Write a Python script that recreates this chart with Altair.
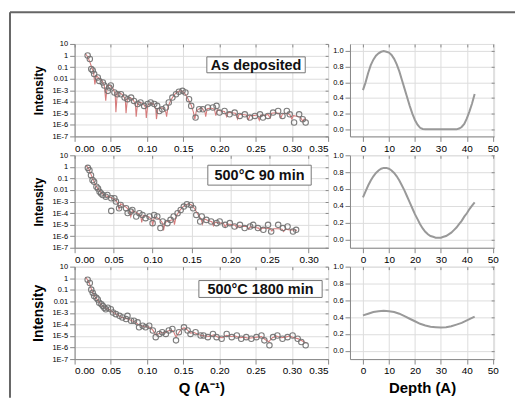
import altair as alt
import pandas as pd
import numpy as np

# ---------------- data ----------------
# Panel 1: As deposited  (Q in 1/A, intensity as log10)
p1_q = [0.018, 0.021, 0.023, 0.025, 0.027, 0.032, 0.034, 0.039, 0.041, 0.046, 0.048, 0.050,
        0.055, 0.059, 0.064, 0.069, 0.073, 0.078, 0.082, 0.087, 0.091, 0.096, 0.101, 0.105,
        0.110, 0.114, 0.117, 0.121, 0.126, 0.130, 0.135, 0.140, 0.144, 0.149, 0.153, 0.158,
        0.161, 0.167, 0.172, 0.177, 0.184, 0.191, 0.196, 0.200, 0.207, 0.214, 0.221, 0.228,
        0.235, 0.242, 0.249, 0.256, 0.260, 0.267, 0.274, 0.281, 0.287, 0.293, 0.297, 0.303,
        0.310, 0.315, 0.319]
p1_log = [0.0, -0.3, -1.17, -1.3, -1.6, -1.9, -2.2, -2.33, -2.6, -3.06, -2.77, -2.6,
          -3.2, -3.35, -3.35, -3.64, -3.78, -3.64, -3.93, -4.2, -4.07, -4.36, -4.2, -4.07,
          -4.2, -4.36, -4.8, -4.65, -4.5, -4.07, -3.64, -3.35, -3.14, -3.06, -3.2, -3.78,
          -4.36, -5.37, -4.65, -4.65, -4.5, -4.5, -4.36, -4.94, -4.8, -5.09, -4.94, -5.23,
          -5.09, -5.37, -5.23, -5.09, -5.37, -5.23, -4.94, -4.8, -5.23, -4.8, -5.09, -5.8,
          -5.09, -5.52, -5.8]
p1_fit_q = [0.015, 0.018, 0.021, 0.024, 0.026, 0.028, 0.030, 0.034, 0.038, 0.041, 0.043, 0.045,
            0.049, 0.053, 0.056, 0.057, 0.059, 0.063, 0.067, 0.070, 0.071, 0.073, 0.077, 0.081,
            0.084, 0.085, 0.087, 0.091, 0.095, 0.098, 0.099, 0.101, 0.105, 0.109, 0.112, 0.113,
            0.115, 0.119, 0.123, 0.126, 0.127, 0.129, 0.133, 0.137, 0.141, 0.145, 0.149, 0.153,
            0.157, 0.161, 0.164, 0.166, 0.168, 0.172, 0.176, 0.180, 0.181, 0.183, 0.188, 0.193,
            0.195, 0.197, 0.202, 0.207, 0.210, 0.212, 0.217, 0.222, 0.225, 0.227, 0.232, 0.237,
            0.240, 0.242, 0.247, 0.252, 0.255, 0.257, 0.262, 0.267, 0.270, 0.272, 0.277, 0.282,
            0.285, 0.287, 0.292, 0.297, 0.300, 0.302, 0.307, 0.312, 0.315, 0.317, 0.320]
p1_fit_log = [0.15, -0.1, -0.55, -1.1, -1.4, -2.5, -1.75, -2.0, -2.2, -2.6, -3.9, -2.6,
              -2.6, -2.85, -3.3, -4.9, -3.2, -3.25, -3.45, -3.8, -5.0, -3.7, -3.65, -3.85,
              -4.2, -5.3, -4.1, -4.05, -4.2, -4.5, -5.4, -4.3, -4.1, -4.2, -4.6, -5.5,
              -4.6, -4.5, -4.6, -4.9, -5.3, -4.4, -3.85, -3.45, -3.2, -3.05, -3.1, -3.35,
              -3.8, -4.3, -4.9, -5.5, -4.8, -4.6, -4.55, -4.9, -5.3, -4.6, -4.55, -4.65,
              -5.2, -4.7, -4.8, -4.85, -5.3, -4.9, -4.95, -5.0, -5.5, -5.1, -5.1, -5.15,
              -5.55, -5.2, -5.2, -5.15, -5.6, -5.15, -5.2, -5.1, -5.4, -5.0, -4.95, -5.0,
              -5.4, -5.05, -5.0, -5.1, -5.5, -5.2, -5.25, -5.35, -5.7, -5.5, -5.6]

# Panel 2: 500C 90 min
p2_q = [0.017, 0.019, 0.021, 0.023, 0.025, 0.028, 0.030, 0.032, 0.034, 0.036, 0.040, 0.042,
        0.047, 0.047, 0.051, 0.053, 0.057, 0.059, 0.066, 0.068, 0.072, 0.074, 0.079, 0.083,
        0.087, 0.091, 0.096, 0.100, 0.102, 0.106, 0.110, 0.113, 0.119, 0.123, 0.127, 0.132,
        0.136, 0.140, 0.144, 0.149, 0.152, 0.156, 0.161, 0.163, 0.169, 0.175, 0.182, 0.186,
        0.193, 0.199, 0.205, 0.212, 0.218, 0.225, 0.229, 0.235, 0.242, 0.248, 0.252, 0.261,
        0.267, 0.273, 0.280, 0.284]
p2_log = [-0.09, -0.29, -0.72, -1.15, -1.29, -1.72, -1.87, -2.15, -2.3, -2.44, -2.58, -2.44,
          -2.72, -3.81, -2.72, -3.0, -3.58, -3.3, -3.58, -4.0, -3.87, -3.73, -4.3, -4.01,
          -4.16, -4.44, -4.3, -4.87, -4.16, -4.3, -5.3, -4.73, -4.87, -4.59, -4.3, -4.01,
          -3.73, -3.44, -3.24, -3.3, -3.58, -4.16, -4.73, -4.3, -4.59, -4.73, -4.87, -4.73,
          -5.02, -4.87, -5.16, -5.02, -5.3, -5.16, -5.02, -5.3, -5.45, -5.02, -5.59, -5.02,
          -5.3, -5.16, -5.59, -5.45]
p2_fit_q = [0.015, 0.018, 0.021, 0.024, 0.027, 0.030, 0.033, 0.036, 0.040, 0.044, 0.048, 0.052,
            0.055, 0.057, 0.059, 0.063, 0.067, 0.070, 0.072, 0.074, 0.078, 0.082, 0.085, 0.086,
            0.088, 0.092, 0.096, 0.099, 0.100, 0.102, 0.106, 0.110, 0.113, 0.114, 0.116, 0.120,
            0.124, 0.127, 0.128, 0.130, 0.134, 0.138, 0.142, 0.146, 0.150, 0.154, 0.158, 0.162,
            0.164, 0.166, 0.171, 0.176, 0.178, 0.180, 0.186, 0.191, 0.193, 0.195, 0.201, 0.206,
            0.208, 0.210, 0.216, 0.221, 0.223, 0.225, 0.231, 0.236, 0.238, 0.240, 0.246, 0.251,
            0.253, 0.255, 0.261, 0.266, 0.268, 0.270, 0.276, 0.281, 0.285]
p2_fit_log = [0.1, -0.15, -0.65, -1.15, -1.6, -1.9, -2.15, -2.35, -2.5, -2.6, -2.7, -2.85,
              -3.1, -3.7, -3.2, -3.35, -3.55, -3.8, -4.3, -3.8, -3.9, -4.05, -4.3, -4.8,
              -4.2, -4.25, -4.35, -4.6, -5.1, -4.4, -4.4, -4.6, -4.9, -5.5, -4.8, -4.7,
              -4.6, -4.6, -5.0, -4.3, -3.85, -3.5, -3.3, -3.2, -3.3, -3.65, -4.1, -4.5,
              -4.95, -4.5, -4.65, -4.75, -5.1, -4.8, -4.85, -4.9, -5.2, -4.95, -5.0, -5.05,
              -5.3, -5.1, -5.15, -5.15, -5.4, -5.2, -5.25, -5.3, -5.5, -5.3, -5.3, -5.35,
              -5.55, -5.35, -5.35, -5.4, -5.6, -5.4, -5.45, -5.45, -5.5]

# Panel 3: 500C 1800 min
p3_q = [0.018, 0.021, 0.023, 0.025, 0.027, 0.030, 0.032, 0.034, 0.037, 0.039, 0.041, 0.043,
        0.046, 0.050, 0.053, 0.057, 0.062, 0.066, 0.071, 0.073, 0.078, 0.082, 0.087, 0.089,
        0.094, 0.098, 0.103, 0.108, 0.112, 0.117, 0.121, 0.126, 0.130, 0.135, 0.140, 0.144,
        0.151, 0.156, 0.160, 0.167, 0.174, 0.178, 0.184, 0.191, 0.196, 0.203, 0.210, 0.217,
        0.224, 0.230, 0.237, 0.244, 0.251, 0.258, 0.262, 0.269, 0.274, 0.280, 0.287, 0.294,
        0.301, 0.308, 0.313, 0.319]
p3_log = [-0.13, -0.42, -0.99, -1.27, -1.55, -1.7, -1.84, -2.12, -2.26, -2.4, -2.55, -2.69,
          -2.55, -2.69, -2.97, -3.11, -3.26, -3.4, -3.54, -3.26, -3.68, -3.68, -3.82, -4.25,
          -4.11, -4.25, -4.11, -4.53, -5.1, -4.82, -4.67, -4.82, -4.53, -4.39, -5.38, -4.67,
          -4.25, -4.53, -4.82, -4.67, -4.96, -4.96, -5.1, -4.82, -5.1, -5.24, -4.82, -5.1,
          -4.96, -5.24, -5.1, -5.24, -5.1, -4.96, -5.38, -5.81, -5.1, -4.96, -5.24, -5.1,
          -4.96, -5.24, -5.52, -5.81]
p3_fit_q = [0.015, 0.018, 0.021, 0.024, 0.027, 0.030, 0.033, 0.036, 0.040, 0.044, 0.048, 0.052,
            0.056, 0.060, 0.064, 0.068, 0.072, 0.076, 0.080, 0.084, 0.088, 0.092, 0.096, 0.100,
            0.104, 0.108, 0.112, 0.116, 0.120, 0.124, 0.128, 0.132, 0.136, 0.140, 0.144, 0.148,
            0.152, 0.156, 0.160, 0.165, 0.170, 0.175, 0.180, 0.186, 0.192, 0.198, 0.204, 0.210,
            0.216, 0.222, 0.228, 0.234, 0.240, 0.246, 0.252, 0.258, 0.263, 0.268, 0.273, 0.279,
            0.285, 0.291, 0.297, 0.303, 0.309, 0.315, 0.320]
p3_fit_log = [0.1, -0.15, -0.55, -1.1, -1.5, -1.75, -2.0, -2.25, -2.45, -2.6, -2.7, -2.9,
              -3.05, -3.2, -3.35, -3.45, -3.5, -3.6, -3.7, -3.8, -4.0, -4.1, -4.2, -4.2,
              -4.25, -4.5, -4.9, -4.8, -4.7, -4.75, -4.6, -4.5, -4.55, -5.1, -4.7, -4.35,
              -4.3, -4.5, -4.75, -4.7, -4.85, -4.95, -5.0, -5.05, -4.9, -5.1, -5.15, -4.95,
              -5.05, -5.0, -5.15, -5.1, -5.2, -5.15, -5.1, -5.05, -5.3, -5.5, -5.15, -5.0,
              -5.15, -5.1, -5.0, -5.15, -5.25, -5.45, -5.6]

# Right panels: composition profile vs depth
depth1 = [0, 1, 2, 3, 4, 5, 6, 7, 8, 9, 10, 11, 12, 13, 14, 15, 16, 17, 18, 19, 20, 21, 22, 23,
          24, 26, 28, 30, 32, 34, 36, 37, 38, 39, 40, 41, 42, 43]
prof1 = [0.5, 0.6, 0.72, 0.82, 0.89, 0.94, 0.97, 0.99, 1.0, 0.99, 0.98, 0.95, 0.9, 0.83, 0.74,
         0.63, 0.52, 0.41, 0.3, 0.2, 0.12, 0.06, 0.02, 0.005, 0.0, 0.0, 0.0, 0.0, 0.0, 0.0,
         0.0, 0.01, 0.03, 0.07, 0.14, 0.23, 0.33, 0.45]
depth2 = [0, 1, 2, 3, 4, 5, 6, 7, 8, 9, 10, 11, 12, 13, 14, 15, 16, 17, 18, 19, 20, 21, 22, 23,
          24, 25, 26, 27, 28, 29, 30, 31, 32, 33, 34, 35, 36, 37, 38, 39, 40, 41, 42, 43]
prof2 = [0.5, 0.57, 0.64, 0.7, 0.75, 0.79, 0.82, 0.84, 0.85, 0.85, 0.84, 0.82, 0.79, 0.75,
         0.7, 0.64, 0.58, 0.51, 0.44, 0.37, 0.3, 0.24, 0.18, 0.13, 0.09, 0.06, 0.04, 0.03,
         0.02, 0.02, 0.02, 0.03, 0.04, 0.06, 0.08, 0.11, 0.14, 0.18, 0.22, 0.27, 0.31, 0.36,
         0.4, 0.44]
depth3 = [0, 2, 4, 6, 8, 10, 12, 14, 16, 18, 20, 22, 24, 26, 28, 30, 32, 34, 36, 38, 40, 42, 43]
prof3 = [0.42, 0.44, 0.46, 0.47, 0.475, 0.47, 0.46, 0.44, 0.41, 0.38, 0.35, 0.32, 0.30, 0.285,
         0.28, 0.275, 0.28, 0.29, 0.31, 0.33, 0.36, 0.39, 0.405]

labels = ["As deposited", "500°C 90 min", "500°C 1800 min"]

# ---------------- chart ----------------
FONT = "Liberation Sans"
LW, RW, H = 255, 145, 93
Y_VALUES = [10, 1, 0.1, 0.01, 0.001, 1e-4, 1e-5, 1e-6, 1e-7]
Y_EXPR = "datum.value >= 0.01 ? '' + datum.value : '1E' + round(log(datum.value) / LN10)"
D_VALUES = [0, 10, 20, 30, 40, 50]
P_VALUES = [0, 0.2, 0.4, 0.6, 0.8, 1.0]
one = pd.DataFrame({"a": [0]})


def mirror_axes(df, xf, yf, xs, ys, xvals, yvals):
    # invisible layer that only carries the inward ticks on the top and right edges
    return alt.Chart(df).mark_point(opacity=0).encode(
        x=alt.X(f"{xf}:Q", scale=xs,
                axis=alt.Axis(orient="top", values=xvals, labels=False, domain=False,
                              title=None, offset=-3, tickSize=3)),
        y=alt.Y(f"{yf}:Q", scale=ys,
                axis=alt.Axis(orient="right", values=yvals, labels=False, domain=False,
                              title=None, offset=-3, tickSize=3)))


def left_panel(q, lg, fq, flg, xmax, xvals, label, box, bottom, ytsize, extra=()):
    pts = pd.DataFrame({"Q": q, "I": np.power(10.0, lg)})
    fit = pd.DataFrame({"Q": fq, "I": np.power(10.0, flg)})
    xs = alt.Scale(domain=[0, xmax], nice=False, zero=False)
    ys = alt.Scale(type="log", domain=[1e-7, 10], nice=False)
    xax = alt.Axis(values=xvals, format=".2f", title="Q (A⁻¹)" if bottom else None,
                   titleFontSize=15, titlePadding=5)
    yax = alt.Axis(values=Y_VALUES, labelExpr=Y_EXPR, title="Intensity", labelFontSize=7.5,
                   titleFontSize=ytsize, titlePadding=6)
    line = alt.Chart(fit).mark_line(color="#d67c7c", strokeWidth=1.1, clip=True).encode(
        x=alt.X("Q:Q", scale=xs, axis=xax), y=alt.Y("I:Q", scale=ys, axis=yax))
    circ = alt.Chart(pts).mark_point(shape="circle", size=30, filled=False, color="#6f6f6f",
                                     strokeWidth=1.1, opacity=0.9).encode(
        x=alt.X("Q:Q", scale=xs, axis=None), y=alt.Y("I:Q", scale=ys, axis=None))
    mir = mirror_axes(fit, "Q", "I", xs, ys, xvals, Y_VALUES)
    x0, x1, y0, y1 = box
    rect = alt.Chart(one).mark_rect(fill="white", stroke="#777", strokeWidth=1).encode(
        x=alt.value(x0), x2=alt.value(x1), y=alt.value(y0), y2=alt.value(y1))
    txt = alt.Chart(one).mark_text(font=FONT, fontSize=14.5, fontWeight="bold", color="#111",
                                   align="center", baseline="middle").encode(
        x=alt.value((x0 + x1) / 2), y=alt.value((y0 + y1) / 2 + 1), text=alt.value(label))
    return alt.layer(line, mir, circ, rect, txt, *extra).resolve_axis(
        x="independent", y="independent").properties(width=LW, height=H)


def right_panel(d, v, ydom, bottom):
    df = pd.DataFrame({"d": d, "v": v})
    xs = alt.Scale(domain=[-5, 50.5], nice=False, zero=False)
    ys = alt.Scale(domain=ydom, nice=False, zero=False)
    line = alt.Chart(df).mark_line(color="#999999", strokeWidth=2).encode(
        x=alt.X("d:Q", scale=xs,
                axis=alt.Axis(values=D_VALUES, title="Depth (A)" if bottom else None,
                              titleFontSize=15, titlePadding=5)),
        y=alt.Y("v:Q", scale=ys,
                axis=alt.Axis(values=P_VALUES, format=".1f", title=None, labelFontSize=7.5)),
    )
    mir = mirror_axes(df, "d", "v", xs, ys, D_VALUES, P_VALUES)
    return alt.layer(line, mir).resolve_axis(x="independent", y="independent").properties(
        width=RW, height=H)


xv_full = [0, 0.05, 0.10, 0.15, 0.20, 0.25, 0.30, 0.35]
xv_short = [0, 0.05, 0.10, 0.15, 0.20, 0.25, 0.30]

frame = alt.Chart(one).mark_rule(color="#666", strokeWidth=2).encode(
    x=alt.value(-65), y=alt.value(-32), y2=alt.value(356))
frame2 = alt.Chart(one).mark_rule(color="#666", strokeWidth=2).encode(
    x=alt.value(-65), x2=alt.value(443), y=alt.value(-32))

l1 = left_panel(p1_q, p1_log, p1_fit_q, p1_fit_log, 0.35, xv_full, labels[0],
                (133, 232, 13, 29), False, 12, extra=(frame, frame2))
l2 = left_panel(p2_q, p2_log, p2_fit_q, p2_fit_log, 0.325, xv_short, labels[1],
                (134, 238, 10, 30), False, 12)
l3 = left_panel(p3_q, p3_log, p3_fit_q, p3_fit_log, 0.35, xv_full, labels[2],
                (125, 249, 14, 31), True, 14)

r1 = right_panel(depth1, prof1, [-0.09, 1.09], False)
r2 = right_panel(depth2, prof2, [-0.1, 1.0], False)
r3 = right_panel(depth3, prof3, [-0.1, 1.0], True)

chart = alt.concat(l1, r1, l2, r2, l3, r3, columns=2,
                   spacing={"row": 19, "column": 22}, bounds="flush").properties(
    padding={"left": 0, "top": 1, "right": 0, "bottom": 0}
).configure_view(stroke="black", strokeWidth=1.3).configure_axis(
    labelFont=FONT, labelFontSize=8, labelFontWeight="bold", labelColor="#333",
    labelOverlap=False, labelFlush=False,
    titleFont=FONT, titleFontWeight="bold", titleColor="#333",
    tickSize=3, tickColor="black", domainColor="black", grid=False, labelPadding=2,
).configure(background="white")

chart.save("out.html", embed_options={"renderer": "svg", "actions": False})
